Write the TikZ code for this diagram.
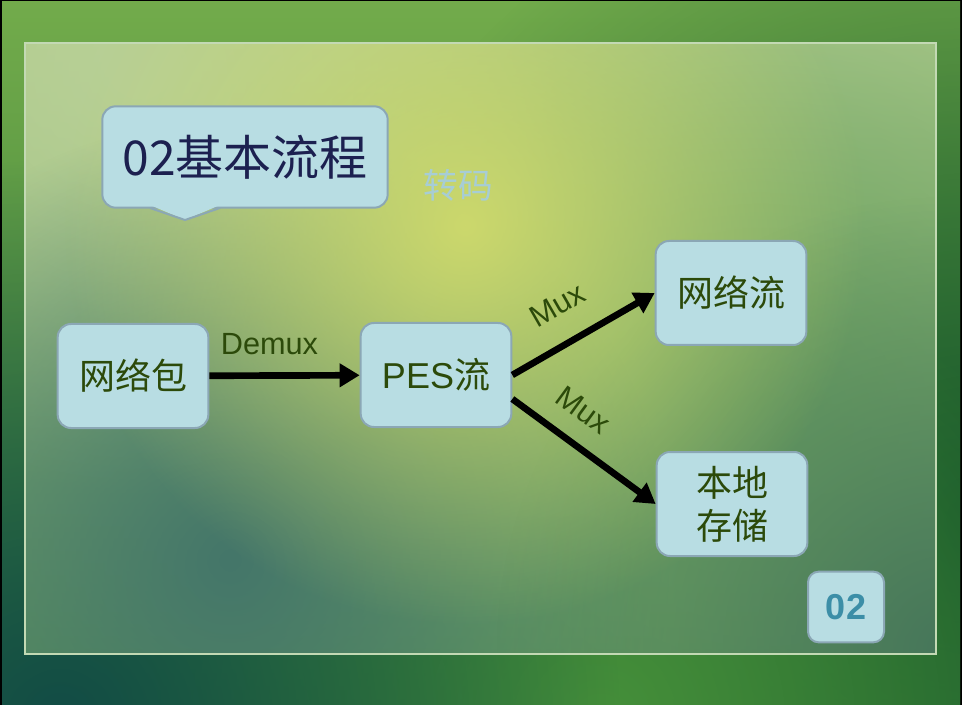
\documentclass[tikz,border=0pt]{standalone}
\usepackage{fontspec}
\setmainfont{Liberation Sans}
\newfontfamily\cjk{Noto Sans CJK SC}
\usetikzlibrary{arrows.meta, positioning, fadings}

\definecolor{boxfill}{HTML}{B8DDE3}
\definecolor{boxline}{HTML}{8BA7B5}
\definecolor{boxtext}{HTML}{2C4A0A}
\definecolor{titletext}{HTML}{1C2050}
\definecolor{tagtext}{HTML}{3C8EA7}
\definecolor{softblue}{HTML}{A7CDD5}
\definecolor{bgtop}{HTML}{72AB4B}
\definecolor{bgbottom}{HTML}{2F7535}
\definecolor{bgteal}{HTML}{124C46}
\definecolor{bgdeep}{HTML}{1A5A2C}
\definecolor{bgbright}{HTML}{46903A}
\definecolor{paneltop}{HTML}{B0CC8E}
\definecolor{panelbottom}{HTML}{5E955C}
\definecolor{panelyellow}{HTML}{CCD86C}
\definecolor{panelteal}{HTML}{44766A}
\definecolor{paneldark}{HTML}{46765A}
\definecolor{panelgreen}{HTML}{6EA462}
\definecolor{panelpale}{HTML}{B8D096}
\definecolor{panelline}{HTML}{C3D9B4}

\tikzfading[name=blob, inner color=transparent!0, outer color=transparent!100]

\tikzset{
    stepbox/.style={draw=boxline, line width=1.5pt, fill=boxfill, rounded corners=10pt,
        minimum width=113pt, minimum height=78pt, align=center, text=boxtext,
        font=\cjk\fontsize{27}{32}\selectfont},
    flow/.style={line width=5pt, -{Triangle[length=15pt, width=17pt]}},
    flowlabel/.style={text=boxtext, inner sep=0pt, font=\fontsize{23}{26}\selectfont}
}

\begin{document}
\begin{tikzpicture}[
    % one unit = one pixel of the slide, y runs downwards
    x=0.75pt, y=-0.75pt
]
    % --- Backdrop ---
    \fill[black] (0,0) rectangle (962,705);
    \shade[top color=bgtop, bottom color=bgbottom] (2,2) rectangle (960,705);
    \begin{scope}
        \clip (2,2) rectangle (960,705);
        \fill[bgdeep, path fading=blob] (980,520) circle (520pt);
        \fill[bgbright, path fading=blob] (600,720) circle (380pt);
        \fill[bgteal, path fading=blob] (60,720) circle (420pt);
    \end{scope}

    % --- Glass panel ---
    \begin{scope}
        \clip (25,43) rectangle (936,654);
        \shade[top color=paneltop, bottom color=panelbottom] (25,43) rectangle (936,654);
        \fill[panelgreen, path fading=blob] (760,420) circle (420pt);
        \fill[panelpale, path fading=blob] (140,70) circle (320pt);
        \fill[panelteal, path fading=blob] (230,560) circle (330pt);
        \fill[paneldark, path fading=blob] (950,650) circle (340pt);
        \fill[panelyellow, path fading=blob] (465,225) circle (300pt);
    \end{scope}
    \draw[panelline, line width=1.2pt] (25,43) rectangle (936,654);

    % --- Title ---
    \node[draw=boxline, line width=1.5pt, fill=boxfill, rounded corners=10pt,
        minimum width=214pt, minimum height=76pt, text=titletext,
        font=\cjk\fontsize{36}{40}\selectfont] (title) at (245,157) {02基本流程};
    % pointer below the title
    \fill[boxfill] (150,205) -- (185,220) -- (220,205) -- cycle;
    \draw[boxline, line width=1.5pt, line join=round] (150,208) -- (185,220) -- (220,208);
    \node[text=softblue, font=\cjk\fontsize{26}{28}\selectfont] (transcode) at (458,185) {转码};

    % --- Flow boxes ---
    \node[stepbox] (packet) at (133,376) {网络包};
    \node[stepbox] (pes) at (436,375) {{\rmfamily PES}流};
    \node[stepbox] (stream) at (731,293) {网络流};
    \node[stepbox] (local) at (732,504) {本地\\存储};

    % --- Arrows ---
    \draw[flow] (packet) -- node[flowlabel, pos=0.4, above=13pt] {Demux} (pes);
    \draw[flow] (pes.east) -- node[flowlabel, sloped, pos=0.45, above=18pt] {Mux} (stream.west);
    \draw[flow] ([yshift=-18pt]pes.east) -- node[flowlabel, sloped, pos=0.36, above=14pt] {Mux} (local.west);

    % --- Page tag ---
    \node[draw=boxline, line width=1.5pt, fill=boxfill, rounded corners=8pt,
        minimum width=57pt, minimum height=53pt, text=tagtext,
        font=\bfseries\fontsize{27}{30}\selectfont] (tag) at (846,607) {02};
\end{tikzpicture}
\end{document}
